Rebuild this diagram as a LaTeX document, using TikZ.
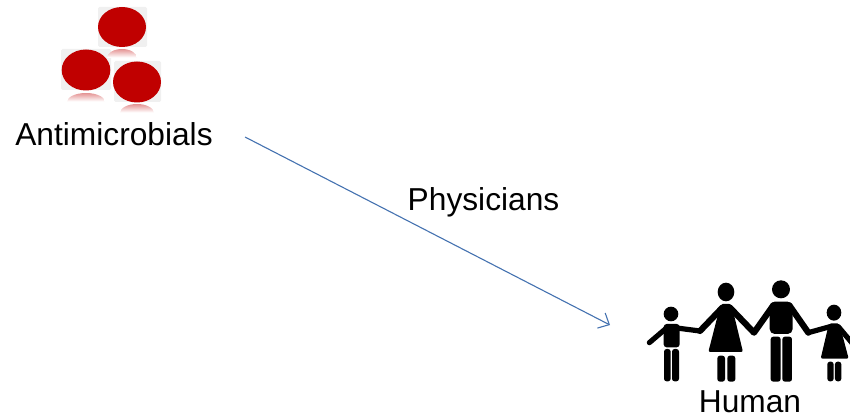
\documentclass[tikz,border=0pt]{standalone}
\usepackage{fontspec}
\setmainfont{Liberation Sans}
\usetikzlibrary{arrows.meta}
\definecolor{pillred}{HTML}{C00000}
\definecolor{arrowblue}{HTML}{4472B0}
\tikzset{
  lab/.style={inner sep=0pt,anchor=base,font=\fontsize{31.7pt}{34pt}\selectfont,text=black},
  tile/.style={fill=black!6,rounded corners=1.5pt},
  pill/.style={fill=pillred},
  limb/.style={draw=black,line width=5.2pt,line cap=round,line join=round},
  biglimb/.style={limb,line width=6.2pt},
  leg/.style={fill=black,rounded corners=2.6pt},
  link/.style={draw=arrowblue,line width=1.1pt,-{Straight Barb[length=9pt,width=17pt,line width=1.1pt]}}
}
\newcommand{\pillglow}[3]{%
  \begin{scope}
    \clip (#1,#2+9) ellipse[x radius=#3,y radius=9];
    \foreach \k in {0,...,8}{
      \pgfmathtruncatemacro{\shade}{42-5*\k}
      \fill[pillred!\shade!white] (#1-#3,#2+\k) rectangle (#1+#3,#2+\k+1.1);
    }
  \end{scope}}
\begin{document}
\begin{tikzpicture}[x=1pt,y=-1pt]
\useasboundingbox (0,0) rectangle (850,417);
% pills
\fill[tile] (98,7) rectangle (147,47);
\fill[tile] (61,49) rectangle (111,90);
\fill[tile] (114,61) rectangle (161,102);
\pillglow{122}{49}{15}
\pillglow{86}{93}{19}
\pillglow{137}{104}{17}
\fill[pill] (122,27) ellipse[x radius=24,y radius=20];
\fill[pill] (86,70) ellipse[x radius=24.3,y radius=20.5];
\fill[pill] (137,82) ellipse[x radius=24,y radius=20.5];
% family
\begin{scope}[shift={(630,270)},x=0.3333pt,y=-0.3333pt]
  \clip (0,0) rectangle (660,345);
  % boy
  \fill (123,132) circle[radius=22];
  \fill[rounded corners=3pt] (101,162) rectangle (149,232);
  \fill[leg] (102,237) rectangle (122,334);
  \fill[leg] (126,237) rectangle (147,334);
  \draw[limb] (112,172) -- (58,218);
  \draw[limb] (140,174) -- (210,183);
  \draw[biglimb] (210,183) -- (277,113);
  % woman
  \fill (288,66) ellipse[x radius=25,y radius=28];
  \fill[rounded corners=2pt] (272,102) -- (304,102) -- (339,246) -- (235,246) -- cycle;
  \fill[leg] (262,257) rectangle (285,335);
  \fill[leg] (292,257) rectangle (316,335);
  \draw[biglimb] (299,112) -- (372,188) -- (430,106);
  % man
  \fill (453,58) circle[radius=27];
  \fill[rounded corners=5pt] (419,95) rectangle (488,192);
  \fill[leg] (422,200) rectangle (452,335);
  \fill[leg] (457,200) rectangle (486,335);
  \draw[biglimb] (478,106) -- (535,188);
  \draw[limb] (535,188) -- (600,170);
  % girl
  \fill (612,128) ellipse[x radius=22,y radius=24];
  \fill[rounded corners=2pt] (597,160) -- (628,160) -- (656,266) -- (572,266) -- cycle;
  \fill[leg] (592,275) rectangle (611,334);
  \fill[leg] (615,275) rectangle (634,334);
  \draw[limb] (625,170) -- (672,226);
\end{scope}
% labels
\node[lab] (anti) at (114,145) {Antimicrobials};
\node[lab] (phys) at (483.5,210) {Physicians};
\node[lab] (human) at (750,412) {Human};
% connector
\coordinate (from) at (245,137);
\coordinate (to) at (610,325);
\draw[link] (from) -- (to);
\end{tikzpicture}
\end{document}
